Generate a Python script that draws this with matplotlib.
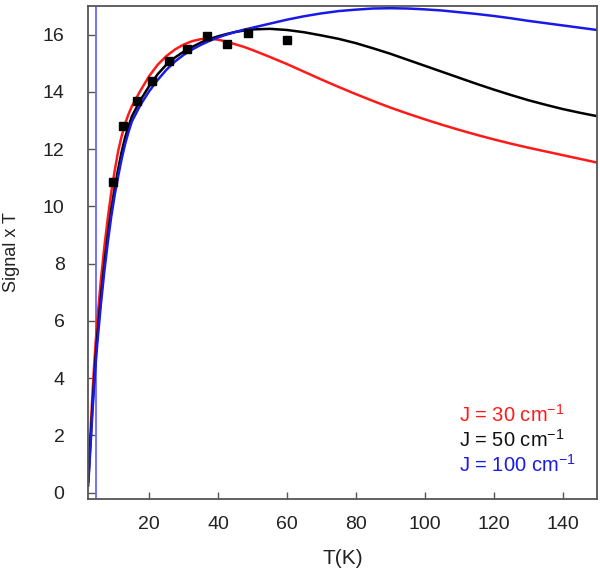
import numpy as np
import matplotlib
matplotlib.use('Agg')
import matplotlib.pyplot as plt

plt.rcParams['font.family'] = ['Liberation Sans', 'DejaVu Sans']
plt.rcParams['mathtext.default'] = 'regular'

# fitted curves
T = [2.3, 2.6, 3, 3.5, 4, 4.5, 5,
     6, 7, 8, 9, 10, 11, 12, 13, 14, 15,
     17.5, 20, 22.5, 25, 27.5, 30, 32.5, 35, 37.5, 40, 42.5, 45, 47.5, 50,
     55, 60, 65, 70, 75, 80, 85, 90, 95, 100,
     105, 110, 115, 120, 125, 130, 135, 140, 145, 150]
j30 = [0.55, 1.25, 2.2, 3.35, 4.4, 5.3, 6.1,
       7.45, 8.6, 9.6, 10.5, 11.25, 11.93, 12.45, 12.88, 13.22, 13.5,
       14.05, 14.55, 14.95, 15.25, 15.48, 15.65, 15.77, 15.84, 15.86, 15.82, 15.75, 15.66, 15.57, 15.46,
       15.22, 14.97, 14.7, 14.43, 14.17, 13.92, 13.68, 13.45, 13.24, 13.04,
       12.85, 12.67, 12.5, 12.34, 12.19, 12.05, 11.92, 11.79, 11.66, 11.53]
j50 = [0.4, 1.0, 1.85, 2.95, 3.9, 4.8, 5.55,
       6.85, 8.0, 9.0, 9.9, 10.65, 11.3, 11.9, 12.4, 12.8, 13.15,
       13.72, 14.2, 14.62, 14.95, 15.2, 15.4, 15.57, 15.72, 15.84, 15.94, 16.02, 16.09, 16.14, 16.18,
       16.2, 16.16, 16.08, 15.97, 15.85, 15.7, 15.52, 15.33, 15.12, 14.91,
       14.7, 14.49, 14.28, 14.08, 13.89, 13.71, 13.55, 13.4, 13.27, 13.15]
j100 = [0.25, 0.85, 1.7, 2.75, 3.7, 4.55, 5.3,
        6.6, 7.75, 8.75, 9.65, 10.4, 11.05, 11.65, 12.17, 12.6, 12.97,
        13.55, 14.02, 14.42, 14.77, 15.06, 15.29, 15.48, 15.64, 15.78, 15.9, 16.0, 16.09, 16.17, 16.24,
        16.38, 16.52, 16.64, 16.74, 16.82, 16.87, 16.91, 16.92, 16.91, 16.88,
        16.84, 16.78, 16.72, 16.65, 16.57, 16.48, 16.4, 16.32, 16.24, 16.16]

# measured points
T_exp = [9.5, 12.4, 16.5, 20.9, 25.8, 31.1, 36.9, 42.7, 48.6, 60.1]
S_exp = [10.85, 12.8, 13.67, 14.37, 15.07, 15.49, 15.94, 15.66, 16.04, 15.8]

T_line = 4.5

labels = ['J = 30 cm$^{-1}$', 'J = 50 cm$^{-1}$', 'J = 100 cm$^{-1}$']
label_colors = ['#ff1a1a', '#111111', '#1a1ae6']

fig = plt.figure(figsize=(6, 5.7), dpi=100)
ax = fig.add_axes([0.147, 0.1246, 0.848, 0.865])

ax.axvline(T_line, color='#5a5aff', lw=1.2)
ax.plot(T, j30, color='#ff1a1a', lw=1.8)
ax.plot(T, j50, color='#000000', lw=1.8)
ax.plot(T, j100, color='#1a1ae6', lw=1.8)
ax.plot(T_exp, S_exp, 's', color='black', ms=5.5)

ax.set_xlim(2.3, 150)
ax.set_ylim(-0.22, 17)
ax.set_xticks([20, 40, 60, 80, 100, 120, 140])
ax.set_yticks(range(0, 17, 2))
ax.tick_params(direction='in', length=5, width=1, color='#555555',
               labelsize=14, labelcolor='#222222')
ax.tick_params(axis='y', pad=17)
ax.tick_params(axis='x', pad=12)
for s in ax.spines.values():
    s.set_color('#555555')
    s.set_linewidth(1.3)

ax.set_xlabel('T(K)', fontsize=15, color='#222222', labelpad=12)
ax.set_ylabel('Signal x T', fontsize=13, color='#222222', labelpad=16)

for i, (lab, c) in enumerate(zip(labels, label_colors)):
    ax.text(0.729, 0.170 - 0.05 * i, lab, transform=ax.transAxes, color=c,
            fontsize=14.5, va='center')

fig.savefig('out.png', dpi=100)
